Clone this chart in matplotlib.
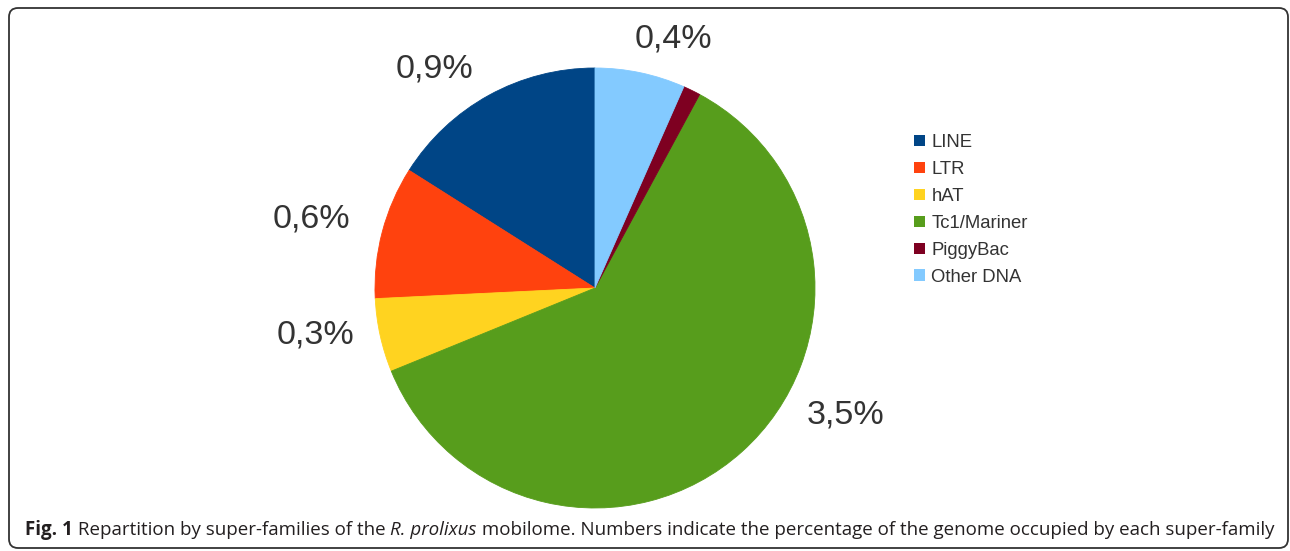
import matplotlib
matplotlib.use("Agg")
import matplotlib.pyplot as plt
from matplotlib.patches import Patch, FancyBboxPatch
import numpy as np

# ---- data ----
categories = ["LINE", "LTR", "hAT", "Tc1/Mariner", "PiggyBac", "Other DNA"]
values = [0.92, 0.56, 0.31, 3.5, 0.073, 0.38]          # % of genome (estimated)
value_labels = ["0,9%", "0,6%", "0,3%", "3,5%", "", "0,4%"]
colors = ["#004586", "#ff420e", "#ffd320", "#579d1c", "#7e0021", "#83caff"]

# label placement tweaks (styling): angle offset (deg), radius factor
label_dtheta = [7.4, 1.05, -2.95, 21.2, 0.0, -5.5]
label_rfac = [1.236, 1.329, 1.288, 1.275, 1.2, 1.186]

W, H = 1290, 551
fig = plt.figure(figsize=(W / 100, H / 100), dpi=100)
ax = fig.add_axes([0, 0, 1, 1])

cx, cy, R = 595, H - 288, 220
wedges, _ = ax.pie(values, colors=colors, startangle=90, counterclock=True,
                   center=(cx, cy), radius=R)
for w, c in zip(wedges, colors):
    w.set_edgecolor(c)
    w.set_linewidth(0.6)
ax.set_xlim(0, W)
ax.set_ylim(0, H)
ax.set_aspect("equal")
ax.axis("off")

for w, lab, dt, rf in zip(wedges, value_labels, label_dtheta, label_rfac):
    if not lab:
        continue
    th = np.deg2rad((w.theta1 + w.theta2) / 2 + dt)
    ax.text(cx + R * rf * np.cos(th), cy + R * rf * np.sin(th), lab,
            ha="center", va="center", fontsize=24.5, color="#333333",
            family="Liberation Sans")

handles = [Patch(facecolor=c, edgecolor="none") for c in colors]
leg = ax.legend(handles, categories, loc="upper left",
                bbox_to_anchor=(914, H - 134), bbox_transform=ax.transData,
                frameon=False, borderpad=0, borderaxespad=0,
                handlelength=0.6, handleheight=0.6, handletextpad=0.34,
                labelspacing=0.54,
                prop=dict(family="Liberation Sans", size=13.3))
for t in leg.get_texts():
    t.set_color("#333333")

# frame
frame = FancyBboxPatch((9, H - 548), 1279, 540,
                       boxstyle="round,pad=0,rounding_size=9",
                       transform=ax.transData, facecolor="none",
                       edgecolor="#333333", linewidth=1.3, clip_on=False)
ax.add_patch(frame)

# caption with mixed styles
segments = [("Fig. 1", "bold", "normal"),
            (" Repartition by super-families of the ", "normal", "normal"),
            ("R. prolixus", "normal", "italic"),
            (" mobilome. Numbers indicate the percentage of the genome occupied by each super-family", "normal", "normal")]

renderer = fig.canvas.get_renderer()
cap_family = "Open Sans"
target_w = 1245


def draw_caption(size):
    arts = []
    x = 25
    for txt, wt, st in segments:
        t = ax.text(x, H - 530, txt, fontsize=size, fontweight=wt, fontstyle=st,
                    family=cap_family, color="#231f20", ha="left", va="center")
        bb = t.get_window_extent(renderer)
        x = bb.x1
        arts.append(t)
    return arts, x - 25

arts, tw = draw_caption(12)
for a in arts:
    a.remove()
size = 12 * target_w / tw
draw_caption(size)

fig.savefig("out.png", dpi=100, facecolor="white")
